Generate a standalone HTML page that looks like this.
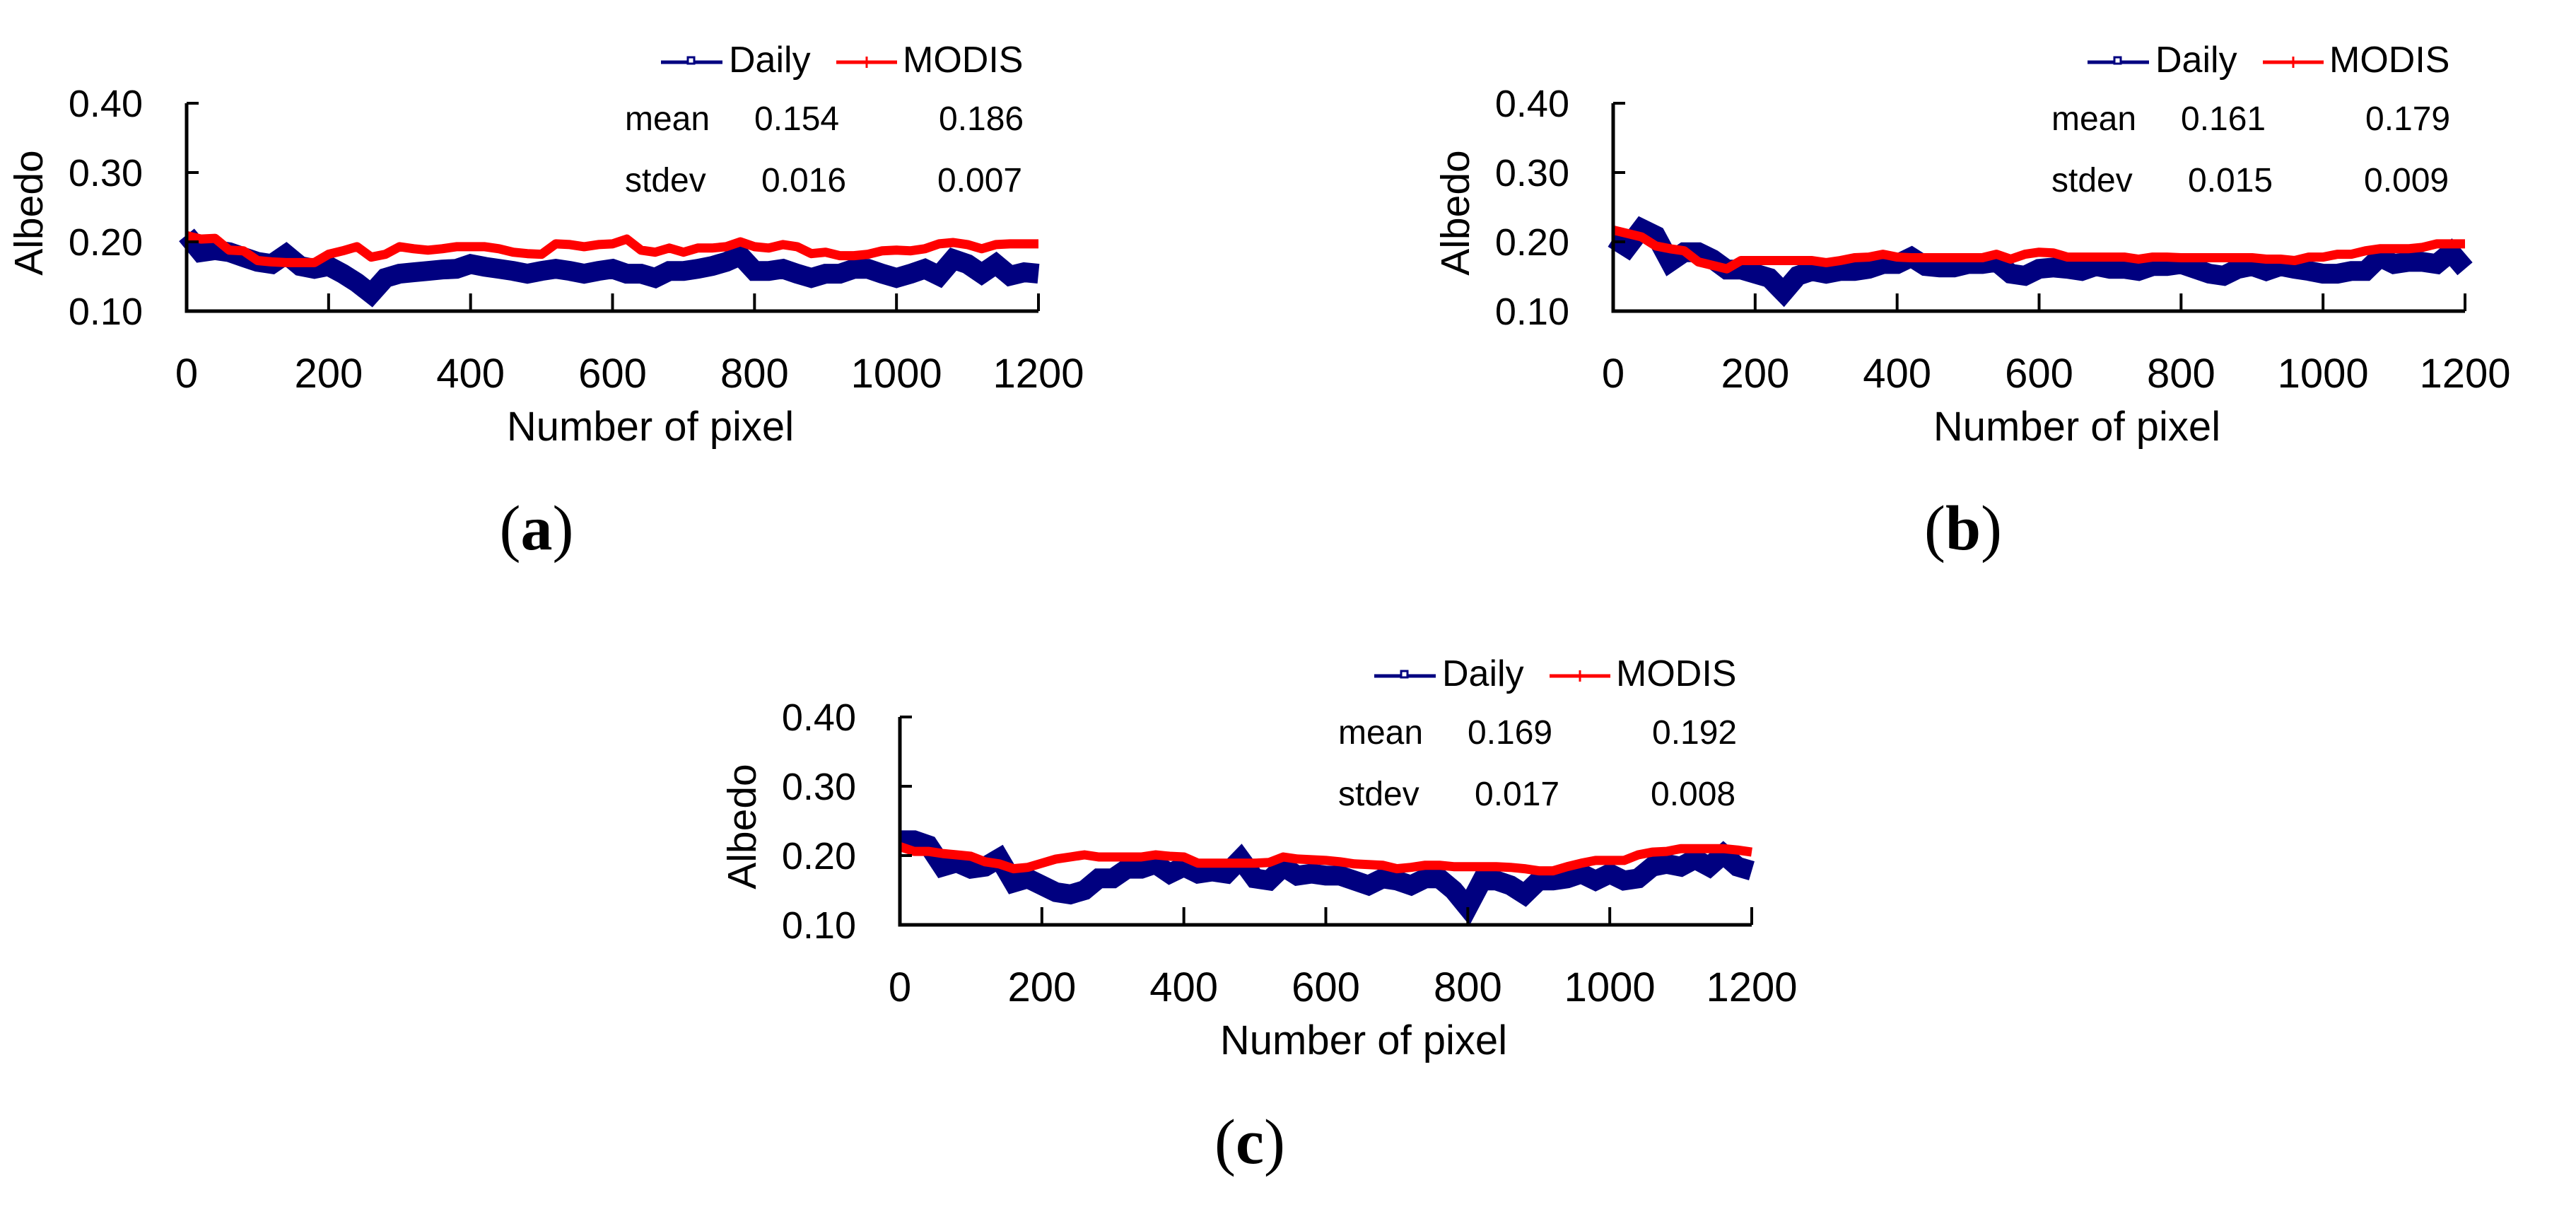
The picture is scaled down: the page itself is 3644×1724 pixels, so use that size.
<!DOCTYPE html>
<html><head><meta charset="utf-8"><style>
html,body{margin:0;padding:0;background:#fff;}
svg{display:block;}
text{font-family:"Liberation Sans",sans-serif;fill:#000;}
</style></head><body>
<svg id="fig" width="3644" height="1724" viewBox="0 0 3644 1724" xmlns="http://www.w3.org/2000/svg"></svg>
<script>
const xTicks = [0,200,400,600,800,1000,1200];
const yTicks = [0.10,0.20,0.30,0.40];
const yTickLabels = ["0.10","0.20","0.30","0.40"];
const sampleX = [];
for (let i = 0; i <= 1200; i += 20) sampleX.push(i);

const aModis = [.209,.204,.205,.188,.187,.173,.171,.170,.170,.170,.182,.187,.193,.178,.182,.193,.190,.188,.190,.193,.193,.193,.190,.185,.183,.182,.197,.196,.193,.196,.197,.204,.188,.185,.191,.185,.191,.191,.193,.200,.193,.191,.196,.193,.183,.185,.180,.180,.182,.187,.188,.187,.190,.197,.199,.196,.190,.196,.197,.197,.197];
const aDaily = [.210,.185,.188,.185,.178,.171,.168,.182,.165,.161,.165,.154,.141,.125,.148,.154,.156,.158,.160,.161,.168,.164,.161,.158,.154,.158,.161,.158,.154,.158,.161,.154,.154,.148,.158,.158,.161,.165,.171,.180,.158,.158,.161,.154,.148,.154,.154,.161,.161,.154,.148,.154,.161,.151,.175,.168,.154,.168,.151,.156,.154];
const bModis = [.217,.212,.207,.194,.190,.187,.171,.166,.161,.173,.173,.173,.173,.173,.173,.170,.173,.177,.178,.182,.178,.177,.177,.177,.177,.177,.177,.182,.175,.182,.185,.184,.178,.178,.178,.178,.178,.175,.178,.178,.177,.177,.177,.177,.177,.177,.175,.175,.173,.178,.178,.182,.182,.187,.190,.190,.190,.192,.197,.197,.197];
const bDaily = [.205,.192,.219,.209,.171,.185,.185,.175,.160,.160,.154,.148,.127,.151,.158,.154,.158,.158,.161,.168,.168,.178,.165,.163,.163,.168,.168,.171,.154,.151,.161,.163,.161,.158,.165,.161,.161,.158,.165,.165,.168,.161,.154,.151,.161,.165,.158,.165,.161,.158,.154,.154,.158,.158,.178,.168,.171,.171,.168,.185,.161];
const cModis = [.213,.206,.206,.203,.201,.199,.191,.188,.181,.183,.189,.195,.198,.201,.198,.198,.198,.198,.201,.199,.198,.189,.189,.189,.189,.189,.190,.198,.195,.194,.193,.191,.188,.187,.186,.181,.183,.186,.186,.184,.184,.184,.184,.183,.181,.178,.178,.184,.189,.193,.193,.193,.201,.205,.206,.210,.210,.210,.210,.208,.205];
const cDaily = [.222,.222,.215,.184,.190,.181,.184,.196,.161,.167,.157,.147,.144,.150,.167,.167,.181,.181,.188,.174,.184,.174,.177,.174,.195,.167,.164,.184,.171,.174,.171,.171,.164,.157,.167,.164,.157,.167,.167,.150,.125,.164,.164,.157,.144,.164,.164,.167,.174,.164,.174,.164,.167,.184,.188,.184,.195,.184,.202,.184,.178];

const panelStats = [["0.154","0.186","0.016","0.007"],["0.161","0.179","0.015","0.009"],["0.169","0.192","0.017","0.008"]];
const panelLabels = ["a","b","c"];

const NS = "http://www.w3.org/2000/svg";
const svg = document.getElementById("fig");
function mk(tag, attrs, parent, txt) {
  const e = document.createElementNS(NS, tag);
  for (const k in attrs) e.setAttribute(k, attrs[k]);
  if (txt !== undefined) e.textContent = txt;
  (parent || svg).appendChild(e);
  return e;
}
const W = 1205, H = 294;
function drawPanel(ox, oy, daily, modis, stats, label, id) {
  const g = mk("g", {});
  
  
  const xs = v => ox + v / 1200 * W;
  const ys = v => oy - (v - 0.10) / 0.30 * H;
  let pd = sampleX.map((x, i) => (i ? "L" : "M") + xs(x).toFixed(1) + " " + ys(daily[i]).toFixed(1)).join(" ");
  const dl = mk("path", {d: pd, fill: "none", stroke: "#000080", "stroke-width": 28, "stroke-linejoin": "miter", "stroke-miterlimit": 3}, g);
  
  
  let pm = sampleX.map((x, i) => (i ? "L" : "M") + xs(x).toFixed(1) + " " + ys(modis[i]).toFixed(1)).join(" ");
  const ml = mk("path", {d: pm, fill: "none", stroke: "#ff0000", "stroke-width": 13, "stroke-linejoin": "round"}, g);
  
  
  const ax = mk("path", {d: `M${ox} ${ys(0.40)} L${ox} ${oy} L${xs(1200)} ${oy}`, fill: "none", stroke: "#000", "stroke-width": 5}, g);
  
  
  yTicks.forEach((v, i) => {
    if (v > 0.15) mk("line", {x1: ox, x2: ox + 17, y1: ys(v), y2: ys(v), stroke: "#000", "stroke-width": 4}, g);
    const t = mk("text", {x: ox - 62, y: ys(v) + 19, "font-size": 54, "text-anchor": "end"}, g, yTickLabels[i]);
    
    
  });
  xTicks.forEach(v => {
    if (v > 0) mk("line", {x1: xs(v), x2: xs(v), y1: oy, y2: oy - 25, stroke: "#000", "stroke-width": 4}, g);
    const t = mk("text", {x: xs(v), y: oy + 108, "font-size": 58, "text-anchor": "middle"}, g, String(v));
    
    
  });
  const xt = mk("text", {x: ox + 656, y: oy + 183, "font-size": 58, "text-anchor": "middle"}, g, "Number of pixel");
  
  
  const yt = mk("text", {x: 0, y: 0, "font-size": 57, "text-anchor": "middle", transform: `translate(${ox - 204} ${oy - 139}) rotate(-90)`}, g, "Albedo");
  
  
  const lg = mk("g", {}, g);
  
  
  mk("line", {x1: ox + 671, x2: ox + 758, y1: oy - 352, y2: oy - 352, stroke: "#000080", "stroke-width": 5}, lg);
  mk("rect", {x: ox + 709, y: oy - 359, width: 9, height: 9, fill: "#fff", stroke: "#000080", "stroke-width": 3}, lg);
  mk("text", {x: ox + 767, y: oy - 338, "font-size": 52}, lg, "Daily");
  mk("line", {x1: ox + 919, x2: ox + 1005, y1: oy - 352, y2: oy - 352, stroke: "#ff0000", "stroke-width": 5}, lg);
  mk("line", {x1: ox + 962, x2: ox + 962, y1: oy - 360, y2: oy - 344, stroke: "#ff0000", "stroke-width": 3}, lg);
  mk("text", {x: ox + 1013, y: oy - 338, "font-size": 52}, lg, "MODIS");
  const st = mk("g", {"font-size": 48}, g);
  
  
  mk("text", {x: ox + 620, y: oy - 256}, st, "mean");
  mk("text", {x: ox + 803, y: oy - 256}, st, stats[0]);
  mk("text", {x: ox + 1064, y: oy - 256}, st, stats[1]);
  mk("text", {x: ox + 620, y: oy - 169}, st, "stdev");
  mk("text", {x: ox + 813, y: oy - 169}, st, stats[2]);
  mk("text", {x: ox + 1062, y: oy - 169}, st, stats[3]);
  const cap = mk("text", {x: ox + 495, y: oy + 337, "font-size": 90, "text-anchor": "middle", style: "font-family:'Liberation Serif',serif;font-weight:bold"}, g);
  
  
  mk("tspan", {"font-weight": "normal"}, cap, "(");
  mk("tspan", {}, cap, label);
  mk("tspan", {"font-weight": "normal"}, cap, ")");
}
drawPanel(264, 440, aDaily, aModis, panelStats[0], panelLabels[0], "a");
drawPanel(2282, 440, bDaily, bModis, panelStats[1], panelLabels[1], "b");
drawPanel(1273, 1308, cDaily, cModis, panelStats[2], panelLabels[2], "c");
</script>
</body></html>
